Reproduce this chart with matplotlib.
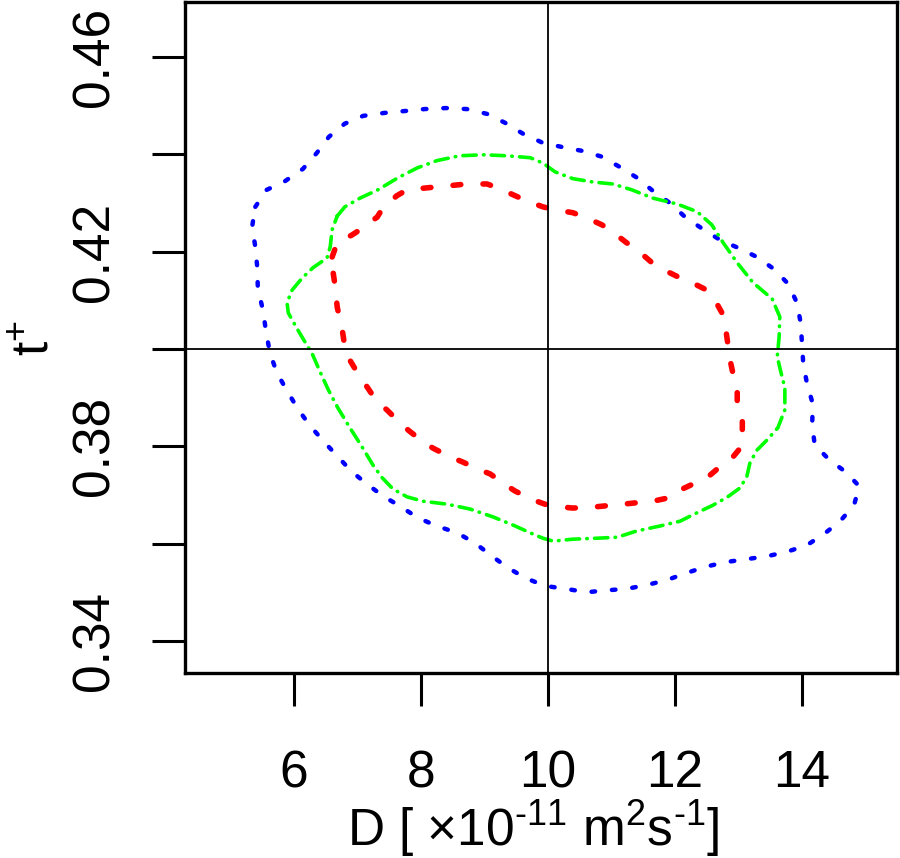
import numpy as np
import matplotlib.pyplot as plt

plt.rcParams['font.family'] = ['Liberation Sans', 'DejaVu Sans']
plt.rcParams['mathtext.fontset'] = 'custom'
plt.rcParams['mathtext.rm'] = 'Liberation Sans'
plt.rcParams['mathtext.it'] = 'Liberation Sans:italic'

# contour outlines, D [1e-11 m2/s] vs t+
blue_D = [5.39, 5.57, 5.86, 6.14, 6.36, 6.55, 6.80, 7.09, 7.42, 7.75, 8.06, 8.39,
          8.72, 9.04, 9.32, 9.61, 9.91, 10.22, 10.54, 10.85, 11.13, 11.40, 11.65,
          11.92, 12.16, 12.43, 12.71, 12.99, 13.29, 13.56, 13.78, 13.92, 13.98,
          14.00, 14.02, 14.08, 14.17, 14.16, 14.20, 14.43, 14.69, 14.90, 14.82,
          14.60, 14.35, 14.08, 13.76, 13.45, 13.13, 12.80, 12.47, 12.17, 11.87,
          11.56, 11.24, 10.93, 10.61, 10.28, 9.95, 9.65, 9.37, 9.12, 8.85, 8.57,
          8.25, 7.95, 7.69, 7.40, 7.15, 6.90, 6.68, 6.46, 6.24, 6.05, 5.89, 5.73,
          5.62, 5.56, 5.51, 5.43, 5.42, 5.39, 5.34]
blue_t = [0.4292, 0.4327, 0.4345, 0.4370, 0.4403, 0.4436, 0.4463, 0.4479, 0.4485,
          0.4489, 0.4493, 0.4495, 0.4493, 0.4483, 0.4465, 0.4442, 0.4424, 0.4415,
          0.4407, 0.4395, 0.4374, 0.4352, 0.4325, 0.4300, 0.4271, 0.4247, 0.4224,
          0.4208, 0.4189, 0.4164, 0.4134, 0.4095, 0.4053, 0.4010, 0.3969, 0.3928,
          0.3887, 0.3844, 0.3803, 0.3772, 0.3747, 0.3718, 0.3679, 0.3646, 0.3620,
          0.3597, 0.3583, 0.3574, 0.3568, 0.3562, 0.3552, 0.3539, 0.3525, 0.3515,
          0.3507, 0.3504, 0.3500, 0.3507, 0.3513, 0.3529, 0.3550, 0.3574, 0.3601,
          0.3622, 0.3636, 0.3653, 0.3675, 0.3698, 0.3722, 0.3749, 0.3780, 0.3811,
          0.3844, 0.3879, 0.3914, 0.3951, 0.3992, 0.4035, 0.4080, 0.4125, 0.4169,
          0.4210, 0.4251]

green_D = [6.68, 6.80, 7.04, 7.32, 7.64, 7.94, 8.25, 8.61, 8.98, 9.35, 9.72, 9.92,
           10.11, 10.39, 10.71, 11.02, 11.32, 11.65, 12.03, 12.35, 12.58, 12.76,
           12.98, 13.23, 13.53, 13.65, 13.64, 13.61, 13.67, 13.73, 13.73, 13.62,
           13.45, 13.29, 13.18, 13.13, 13.02, 12.83, 12.60, 12.31, 12.08, 11.76,
           11.40, 11.09, 10.77, 10.39, 10.08, 9.92, 9.72, 9.45, 9.13, 8.77, 8.41,
           8.03, 7.78, 7.56, 7.39, 7.24, 7.07, 6.88, 6.69, 6.54, 6.41, 6.28, 6.22,
           6.06, 5.91, 5.89, 5.97, 6.13, 6.30, 6.52, 6.57, 6.60]
green_t = [0.4273, 0.4292, 0.4310, 0.4327, 0.4352, 0.4372, 0.4387, 0.4397, 0.4399,
           0.4397, 0.4393, 0.4382, 0.4364, 0.4350, 0.4343, 0.4339, 0.4327, 0.4310,
           0.4298, 0.4282, 0.4255, 0.4218, 0.4177, 0.4136, 0.4103, 0.4066, 0.4025,
           0.3984, 0.3951, 0.3920, 0.3875, 0.3838, 0.3813, 0.3792, 0.3766, 0.3737,
           0.3714, 0.3696, 0.3679, 0.3661, 0.3646, 0.3636, 0.3626, 0.3613, 0.3611,
           0.3609, 0.3605, 0.3611, 0.3622, 0.3638, 0.3655, 0.3671, 0.3681, 0.3687,
           0.3696, 0.3712, 0.3735, 0.3762, 0.3799, 0.3838, 0.3879, 0.3916, 0.3953,
           0.3992, 0.4004, 0.4039, 0.4074, 0.4095, 0.4121, 0.4146, 0.4167, 0.4187,
           0.4210, 0.4245]

red_D = [6.60, 6.68, 6.91, 7.04, 7.31, 7.40, 7.62, 7.78, 8.09, 8.41, 8.72, 9.04,
         9.21, 9.48, 9.67, 9.92, 10.11, 10.39, 10.58, 10.85, 11.01, 11.24, 11.40,
         11.64, 11.80, 12.05, 12.24, 12.50, 12.60, 12.74, 12.79, 12.83, 12.85,
         12.91, 12.98, 12.98, 13.06, 13.06, 13.07, 12.90, 12.76, 12.52, 12.36,
         12.08, 11.97, 11.65, 11.48, 11.18, 10.71, 10.39, 10.22, 9.95, 9.76, 9.48,
         9.34, 9.09, 8.90, 8.65, 8.46, 8.19, 8.03, 7.80, 7.67, 7.46, 7.31, 7.15,
         7.04, 6.87, 6.80, 6.76, 6.68, 6.65, 6.61]
red_t = [0.4189, 0.4218, 0.4234, 0.4245, 0.4271, 0.4290, 0.4315, 0.4327, 0.4331,
         0.4335, 0.4339, 0.4339, 0.4331, 0.4315, 0.4304, 0.4292, 0.4286, 0.4280,
         0.4271, 0.4255, 0.4241, 0.4218, 0.4204, 0.4177, 0.4164, 0.4148, 0.4138,
         0.4121, 0.4107, 0.4074, 0.4049, 0.4012, 0.3988, 0.3951, 0.3926, 0.3889,
         0.3864, 0.3829, 0.3803, 0.3776, 0.3764, 0.3737, 0.3727, 0.3710, 0.3696,
         0.3687, 0.3685, 0.3681, 0.3675, 0.3673, 0.3675, 0.3681, 0.3690, 0.3708,
         0.3720, 0.3743, 0.3753, 0.3768, 0.3778, 0.3796, 0.3809, 0.3833, 0.3848,
         0.3875, 0.3891, 0.3922, 0.3942, 0.3979, 0.4004, 0.4039, 0.4086, 0.4127,
         0.4162]

ref_D = 10
ref_t = 0.40
xticks = [6, 8, 10, 12, 14]
yticks = [0.34, 0.36, 0.38, 0.40, 0.42, 0.44, 0.46]
ytick_labels = ['0.34', '', '0.38', '', '0.42', '', '0.46']


def closed(v):
    return np.append(v, v[0])


fig = plt.figure(figsize=(9, 8.58), dpi=100)
ax = fig.add_axes([185 / 900, 1 - 673 / 858, 712 / 900, 671 / 858])

ax.plot(closed(blue_D), closed(blue_t), color='#0000ff', lw=3.2,
        linestyle=(0, (0.8, 3.8)), dash_capstyle='round')
ax.plot(closed(green_D), closed(green_t), color='#00ff00', lw=2.6,
        linestyle=(0, (3.7, 2.0, 0.15, 2.0)), dash_capstyle='round')
ax.plot(closed(red_D), closed(red_t), color='#ff0000', lw=4.0,
        linestyle=(0, (1.4, 4.0)), dash_capstyle='round')

ax.axvline(ref_D, color='black', lw=1.3)
ax.axhline(ref_t, color='black', lw=1.3)

ax.set_xlim(4.283, 15.496)
ax.set_ylim(0.3334, 0.4713)
ax.set_xticks(xticks)
ax.set_xticklabels([str(v) for v in xticks])
ax.set_yticks(yticks)
ax.set_yticklabels(ytick_labels, rotation=90, va='center')

for s in ax.spines.values():
    s.set_linewidth(2.4)
ax.tick_params(axis='both', length=24, width=2.2, labelsize=37)
ax.tick_params(axis='x', pad=31)
ax.tick_params(axis='y', pad=23)

ax.set_xlabel(r'D [ $\times$10$^{\text{-11}}$ m$^{2}$s$^{\text{-1}}$]', fontsize=37)
ax.xaxis.label.set_va('baseline')
ax.xaxis.set_label_coords((533.5 - 185) / 712, -(846 - 673) / 671)
ax.set_ylabel(r't$^{+}$', fontsize=37)
ax.yaxis.set_label_coords((59 - 185) / 712, 0.5)

fig.savefig('out.png', dpi=100)
